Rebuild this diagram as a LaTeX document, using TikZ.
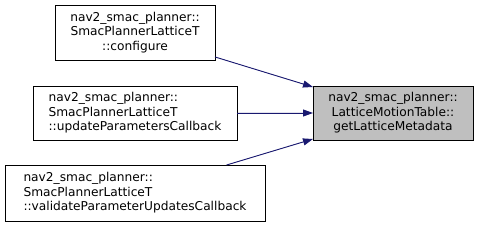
\documentclass[tikz,border=0pt]{standalone}
\usepackage{fontspec}
\setmainfont{DejaVu Sans}
\usetikzlibrary{arrows.meta}
\definecolor{edgeblue}{HTML}{191970}
\definecolor{hlgray}{HTML}{BFBFBF}
\tikzset{
  box/.style={draw=black, line width=0.9pt, fill=white, inner sep=0pt, outer sep=0pt,
    font=\fontsize{12.2}{14.5}\selectfont},
  edge/.style={draw=edgeblue, line width=0.9pt, -{Triangle[length=10pt,width=7pt]}, fill=edgeblue},
}
\begin{document}
\begin{tikzpicture}[x=1pt,y=-1pt]
\useasboundingbox (0,0) rectangle (479,227);
\node[box, minimum width=160pt, minimum height=55pt, align=center] (b1) at (135,32.5)
  {nav2\_smac\_planner::\\SmacPlannerLatticeT\\::configure};
\node[box, minimum width=204pt, minimum height=54pt, align=left] (b2) at (135,113)
  {nav2\_smac\_planner::\\SmacPlannerLatticeT\\::updateParametersCallback};
\node[box, minimum width=260pt, minimum height=56pt, align=left] (b3) at (135,193)
  {nav2\_smac\_planner::\\SmacPlannerLatticeT\\::validateParameterUpdatesCallback};
\node[box, fill=hlgray, minimum width=160pt, minimum height=54pt, align=center] (t) at (393,113)
  {nav2\_smac\_planner::\\LatticeMotionTable::\\getLatticeMetadata};
\draw[edge] (b1.-17) -- (t.162);
\draw[edge] (b2.east) -- (t.west);
\draw[edge] (b3.17.3) -- (t.198);
\end{tikzpicture}
\end{document}
